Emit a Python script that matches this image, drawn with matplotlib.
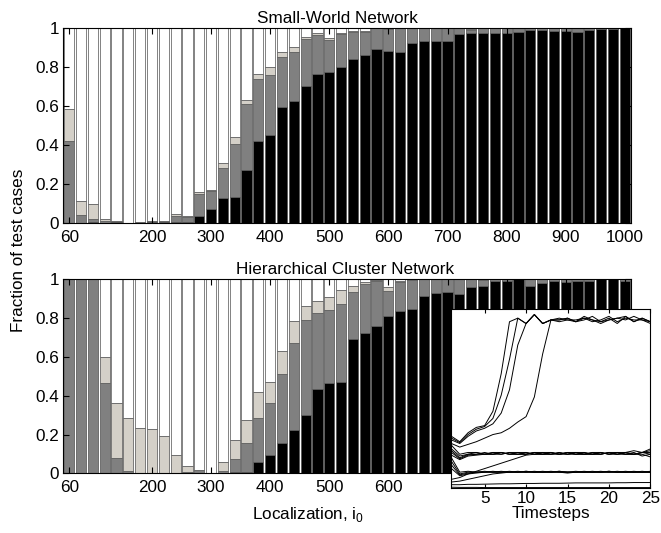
import numpy as np
import matplotlib
matplotlib.use('Agg')
import matplotlib.pyplot as plt

plt.rcParams['font.family'] = ['Liberation Sans', 'DejaVu Sans']
plt.rcParams['mathtext.fontset'] = 'custom'
plt.rcParams['mathtext.rm'] = 'Liberation Sans'

# localization values, one bar each
loc = np.arange(60, 1001, 20)
xtick_vals = [60, 200, 300, 400, 500, 600, 700, 800, 900, 1000]

# small-world network: fractions (black / dark gray / light gray, white = rest)
sw_black = [0, 0, 0.005, 0, 0.005, 0, 0, 0.005, 0.005, 0.005, 0.005, 0.034,
            0.069, 0.13, 0.134, 0.271, 0.422, 0.453, 0.597, 0.628, 0.703, 0.765, 0.775, 0.803,
            0.84, 0.86, 0.892, 0.883, 0.88, 0.926, 0.937, 0.935, 0.935, 0.971, 0.975, 0.974,
            0.974, 0.974, 0.98, 0.99, 0.99, 0.985, 0.985, 0.98, 0.99, 0.995, 0.995, 1.0]
sw_dark = [0.42, 0.04, 0.015, 0.01, 0.005, 0, 0.005, 0.005, 0.005, 0.03, 0.025, 0.112,
           0.094, 0.153, 0.271, 0.339, 0.318, 0.307, 0.257, 0.252, 0.242, 0.201, 0.165, 0.167,
           0.14, 0.123, 0.108, 0.112, 0.12, 0.074, 0.063, 0.065, 0.065, 0.029, 0.015, 0.026,
           0.026, 0.026, 0.02, 0.01, 0.01, 0.015, 0.015, 0.02, 0.01, 0.005, 0.005, 0]
sw_light = [0.166, 0.07, 0.075, 0.012, 0, 0, 0, 0, 0, 0.01, 0.007, 0.014,
            0.007, 0.022, 0.035, 0.021, 0.025, 0.043, 0.026, 0.026, 0.012, 0.008, 0.012, 0.005,
            0.005, 0.005, 0, 0.005, 0, 0, 0, 0, 0, 0, 0.005, 0,
            0, 0, 0, 0, 0, 0, 0, 0, 0, 0, 0, 0]

# hierarchical cluster network
hc_black = [0, 0, 0, 0, 0, 0.003, 0, 0, 0, 0, 0, 0.003,
            0, 0.003, 0.005, 0.005, 0.06, 0.094, 0.158, 0.223, 0.299, 0.433, 0.467, 0.472,
            0.692, 0.722, 0.761, 0.813, 0.835, 0.847, 0.916, 0.93, 0.933, 0.924, 0.959, 0.964,
            0.99, 0.993, 1.0, 0.967, 0.979, 0.99, 0.985, 0.99, 0.993, 1.0, 1.0, 0.993]
hc_dark = [1.0, 1.0, 1.0, 0.464, 0.077, 0.007, 0, 0, 0.003, 0, 0.005, 0.012,
           0.003, 0.011, 0.067, 0.153, 0.227, 0.266, 0.352, 0.45, 0.491, 0.395, 0.375, 0.40,
           0.241, 0.254, 0.229, 0.127, 0.15, 0.148, 0.084, 0.07, 0.067, 0.076, 0.041, 0.031,
           0.01, 0.007, 0, 0.033, 0.021, 0.01, 0.015, 0.01, 0.007, 0, 0, 0.007]
hc_light = [0, 0, 0, 0.134, 0.287, 0.274, 0.232, 0.229, 0.191, 0.094, 0.033, 0,
            0, 0.046, 0.10, 0.117, 0.133, 0.112, 0.122, 0.114, 0.072, 0.062, 0.065, 0.075,
            0.034, 0.01, 0.005, 0.02, 0.008, 0, 0, 0, 0, 0, 0, 0.005,
            0, 0, 0, 0, 0, 0, 0, 0, 0, 0, 0, 0]

# inset: fraction over timesteps for a number of runs
steps = np.arange(1, 26)
run_a = [0.29, 0.26, 0.31, 0.34, 0.35, 0.43, 0.64, 0.93, 0.95, 0.92, 0.97, 0.92, 0.94,
         0.94, 0.95, 0.93, 0.96, 0.94, 0.93, 0.95, 0.92, 0.96, 0.93, 0.95, 0.93]
run_b = [0.28, 0.255, 0.30, 0.33, 0.345, 0.39, 0.52, 0.72, 0.95, 0.92, 0.97, 0.92, 0.94,
         0.93, 0.94, 0.94, 0.95, 0.93, 0.94, 0.96, 0.93, 0.95, 0.94, 0.94, 0.92]
run_c = [0.27, 0.25, 0.29, 0.32, 0.335, 0.36, 0.42, 0.55, 0.80, 0.92, 0.97, 0.92, 0.94,
         0.95, 0.94, 0.93, 0.95, 0.94, 0.92, 0.94, 0.95, 0.96, 0.93, 0.95, 0.93]
run_d = [0.25, 0.23, 0.245, 0.26, 0.28, 0.30, 0.31, 0.335, 0.37, 0.40, 0.51, 0.75, 0.94,
         0.94, 0.95, 0.93, 0.94, 0.96, 0.93, 0.94, 0.95, 0.94, 0.96, 0.94, 0.93]
run_m1 = [0.24, 0.19, 0.20, 0.20, 0.19, 0.20, 0.19, 0.20, 0.20, 0.19, 0.20, 0.20, 0.19,
          0.20, 0.19, 0.20, 0.20, 0.19, 0.20, 0.19, 0.20, 0.20, 0.19, 0.20, 0.21]
run_m2 = [0.22, 0.18, 0.19, 0.19, 0.20, 0.19, 0.20, 0.19, 0.19, 0.20, 0.19, 0.19, 0.20,
          0.19, 0.20, 0.19, 0.19, 0.20, 0.19, 0.20, 0.19, 0.19, 0.20, 0.18, 0.19]
run_m3 = [0.21, 0.17, 0.19, 0.20, 0.19, 0.19, 0.19, 0.20, 0.19, 0.19, 0.20, 0.19, 0.19,
          0.20, 0.19, 0.19, 0.20, 0.19, 0.19, 0.20, 0.20, 0.19, 0.19, 0.20, 0.20]
run_m4 = [0.20, 0.165, 0.185, 0.19, 0.19, 0.20, 0.20, 0.19, 0.20, 0.20, 0.19, 0.20, 0.20,
          0.19, 0.20, 0.20, 0.19, 0.20, 0.20, 0.19, 0.19, 0.20, 0.21, 0.20, 0.22]
run_m5 = [0.05, 0.06, 0.08, 0.095, 0.11, 0.125, 0.14, 0.155, 0.17, 0.185, 0.19, 0.19, 0.20,
          0.19, 0.19, 0.20, 0.19, 0.19, 0.20, 0.19, 0.20, 0.19, 0.19, 0.20, 0.19]
run_m6 = [0.185, 0.16, 0.18, 0.185, 0.19, 0.19, 0.20, 0.19, 0.19, 0.19, 0.20, 0.19, 0.19,
          0.19, 0.20, 0.19, 0.19, 0.19, 0.19, 0.20, 0.19, 0.20, 0.19, 0.19, 0.175]
run_l1 = [0.17, 0.09, 0.095, 0.09, 0.09, 0.095, 0.09, 0.09, 0.095, 0.09, 0.09, 0.095, 0.09,
          0.09, 0.085, 0.09, 0.095, 0.09, 0.09, 0.095, 0.09, 0.09, 0.095, 0.09, 0.09]
run_l2 = [0.15, 0.08, 0.09, 0.09, 0.095, 0.09, 0.09, 0.095, 0.09, 0.09, 0.09, 0.09, 0.095,
          0.09, 0.09, 0.095, 0.09, 0.09, 0.09, 0.09, 0.095, 0.09, 0.09, 0.09, 0.095]
run_l3 = [0.13, 0.075, 0.085, 0.09, 0.09, 0.09, 0.095, 0.09, 0.09, 0.095, 0.09, 0.09, 0.09,
          0.095, 0.09, 0.09, 0.09, 0.095, 0.09, 0.09, 0.09, 0.095, 0.09, 0.095, 0.09]
run_l4 = [0.11, 0.07, 0.08, 0.085, 0.09, 0.09, 0.09, 0.09, 0.09, 0.09, 0.095, 0.09, 0.09,
          0.09, 0.09, 0.09, 0.09, 0.09, 0.095, 0.09, 0.09, 0.09, 0.09, 0.09, 0.09]
run_l5 = [0.035, 0.04, 0.05, 0.06, 0.07, 0.08, 0.085, 0.09, 0.09, 0.095, 0.09, 0.09, 0.09,
          0.095, 0.09, 0.09, 0.09, 0.09, 0.09, 0.095, 0.09, 0.09, 0.09, 0.09, 0.09]
run_b1 = [0.02, 0.02, 0.022, 0.022, 0.023, 0.024, 0.025, 0.025, 0.026, 0.027, 0.027, 0.028, 0.028,
          0.028, 0.029, 0.03, 0.03, 0.03, 0.03, 0.03, 0.031, 0.031, 0.032, 0.032, 0.032]
run_b2 = [0.006, 0.005, 0.005, 0.005, 0.004, 0.004, 0.004, 0.004, 0.004, 0.004, 0.004, 0.004, 0.004,
          0.004, 0.004, 0.004, 0.004, 0.004, 0.004, 0.004, 0.004, 0.004, 0.004, 0.004, 0.004]

fontsize = 12.3
dark_col = '#808080'
light_col = '#d4d0c8'


def stacked(ax, black, dark, light, title, title_x):
    black = np.array(black)
    dark = np.array(dark)
    light = np.array(light)
    white = 1 - black - dark - light
    kw = dict(width=17.2, edgecolor='#505050', linewidth=0.5)
    ax.bar(loc, black, color='black', **kw)
    ax.bar(loc, dark, bottom=black, color=dark_col, **kw)
    ax.bar(loc, light, bottom=black + dark, color=light_col, **kw)
    ax.bar(loc, white, bottom=black + dark + light, color='white', **kw)
    ax.set_xlim(50, 1010)
    ax.set_ylim(0, 1)
    ax.set_yticks([0, 0.2, 0.4, 0.6, 0.8, 1])
    ax.set_yticklabels(['0', '0.2', '0.4', '0.6', '0.8', '1'])
    ax.set_xticks(xtick_vals)
    ax.tick_params(direction='in', top=True, right=True, length=4,
                   labelsize=fontsize)
    ax.tick_params(axis='x', pad=5)
    ax.tick_params(axis='y', pad=3)
    ax.set_title(title, fontsize=fontsize, x=title_x, pad=4)


fig = plt.figure(figsize=(6.61, 5.33), dpi=100)
ax1 = fig.add_axes([0.0958, 0.582, 0.8584, 0.365])
ax2 = fig.add_axes([0.0958, 0.112, 0.8584, 0.364])

stacked(ax1, sw_black, sw_dark, sw_light, 'Small-World Network', 0.483)
stacked(ax2, hc_black, hc_dark, hc_light, 'Hierarchical Cluster Network', 0.496)
ax1.set_xticklabels([str(v) for v in xtick_vals])
ax2.set_xticklabels([str(v) if v <= 600 else '' for v in xtick_vals])

fig.text(0.028, 0.531, 'Fraction of test cases', rotation=90,
         ha='center', va='center', fontsize=fontsize)
fig.text(0.466, 0.034, r'Localization, i$_{\mathregular{0}}$',
         ha='center', va='center', fontsize=fontsize)

# inset with the time courses
ins = fig.add_axes([0.683, 0.0839, 0.301, 0.336])
for run in [run_a, run_b, run_c, run_d, run_m1, run_m2, run_m3, run_m4, run_m5,
            run_m6, run_l1, run_l2, run_l3, run_l4, run_l5, run_b1, run_b2]:
    ins.plot(steps, run, color='black', linewidth=0.7)
ins.set_xlim(1, 25)
ins.set_ylim(0, 1)
ins.set_xticks([5, 10, 15, 20, 25])
ins.set_yticks([])
ins.tick_params(direction='in', top=True, length=3, labelsize=fontsize, pad=2)
ins.set_xlabel('Timesteps', fontsize=fontsize, labelpad=0)

plt.savefig('out.png', dpi=100)
